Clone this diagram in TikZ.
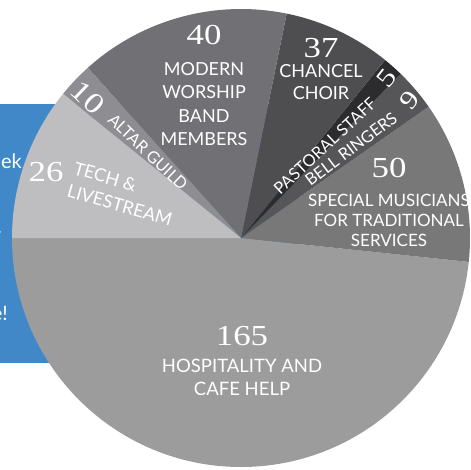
\documentclass[tikz,border=0pt]{standalone}
\usepackage{fontspec}
\setsansfont{Lato}
\newfontfamily\numfont{Liberation Serif}[FakeStretch=1.2]
\usetikzlibrary{positioning}

\definecolor{panelblue}{RGB}{64,136,200}
\definecolor{hospcol}{RGB}{156,156,156}
\definecolor{speccol}{RGB}{120,120,120}
\definecolor{bellcol}{RGB}{86,86,88}
\definecolor{pastcol}{RGB}{44,44,46}
\definecolor{chancol}{RGB}{78,78,81}
\definecolor{modcol}{RGB}{112,112,117}
\definecolor{altarcol}{RGB}{142,142,146}
\definecolor{techcol}{RGB}{190,190,193}

\begin{document}
\begin{tikzpicture}[x=1pt, y=1pt,
    lbl/.style={font=\sffamily\fontsize{18}{23.5}\selectfont, text=white, align=center, inner sep=0pt},
    num/.style={font=\numfont\fontsize{29}{30}\selectfont, text=white, inner sep=0pt},
    small/.style={font=\sffamily\fontsize{16.5}{18}\selectfont}
    ]
\useasboundingbox (0,0) rectangle (471,-469);
\clip (0,0) rectangle (471,-469);

% blue panel behind the pie
\fill[panelblue] (0,-104) rectangle (300,-363);
\node[lbl, font=\sffamily\fontsize{20}{24}\selectfont, anchor=base east] (wk) at (22,-168) {ek};
\node[lbl, font=\sffamily\fontsize{20}{24}\selectfont, anchor=base east] (dot) at (2,-233) {.};
\node[lbl, font=\sffamily\fontsize{20}{24}\selectfont, anchor=base east] (excl) at (8,-320) {e!};

% the pie
\coordinate (c) at (241,-238);
\fill[hospcol]  (c) -- ++(180:229) arc[start angle=180, end angle=354, radius=229] -- cycle;
\fill[speccol]  (c) -- ++(-6:229)  arc[start angle=-6,  end angle=35,  radius=229] -- cycle;
\fill[bellcol]  (c) -- ++(35:229)  arc[start angle=35,  end angle=45.8, radius=229] -- cycle;
\fill[pastcol]  (c) -- ++(45.8:229) arc[start angle=45.8, end angle=51, radius=229] -- cycle;
\fill[chancol]  (c) -- ++(51:229)  arc[start angle=51,  end angle=78.5, radius=229] -- cycle;
\fill[modcol]   (c) -- ++(78.5:229) arc[start angle=78.5, end angle=132, radius=229] -- cycle;
\fill[altarcol] (c) -- ++(132:229) arc[start angle=132, end angle=141, radius=229] -- cycle;
\fill[techcol]  (c) -- ++(141:229) arc[start angle=141, end angle=180, radius=229] -- cycle;

% numbers and labels
\node[num] (n40) at (204,-35) {40};
\node[lbl, below=17pt of n40] (modern) {MODERN\\WORSHIP\\BAND\\MEMBERS};

\node[num] (n37) at (321,-48) {37};
\node[lbl, font=\sffamily\fontsize{18}{22}\selectfont, below=6pt of n37] (chancel) {CHANCEL\\CHOIR};

\node[lbl, small, rotate=43] (pastoral) at (325,-146) {PASTORAL STAFF};
\node[num, font=\numfont\fontsize{26}{28}\selectfont, rotate=52] (n5) at (387,-78) {5};
\node[lbl, small, rotate=37] (bell) at (351,-149) {BELL RINGERS};
\node[num, font=\numfont\fontsize{26}{28}\selectfont, rotate=52] (n9) at (410,-100) {9};

\node[num] (n50) at (389,-168) {50};
\node[lbl, font=\sffamily\fontsize{17}{20}\selectfont, below=16pt of n50] (special) {SPECIAL MUSICIANS\\FOR TRADITIONAL\\SERVICES};

\node[num] (n165) at (242,-336) {165};
\node[lbl, font=\sffamily\fontsize{18.5}{23}\selectfont, below=13pt of n165] (hosp) {HOSPITALITY AND\\CAFE HELP};

\node[num] (n26) at (46,-172) {26};
\node[lbl, align=left, rotate=-16] (tech) at (123,-194) {TECH \&\\LIVESTREAM};

\node[num, rotate=-43.5] (n10) at (88,-98) {10};
\node[lbl, small, rotate=-43.5] (altar) at (148,-152) {ALTAR GUILD};
\end{tikzpicture}
\end{document}
